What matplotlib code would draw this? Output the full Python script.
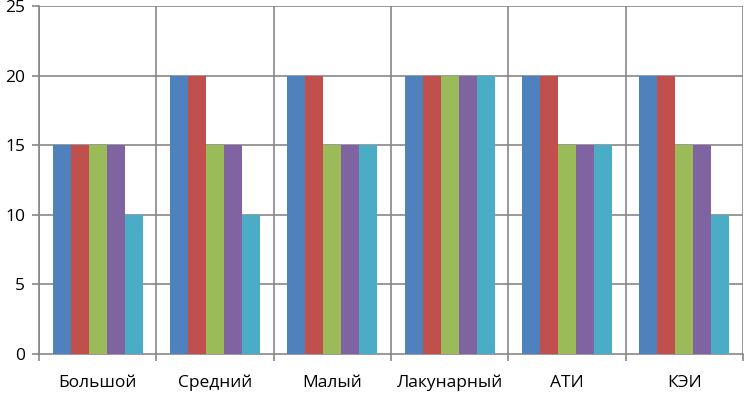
import matplotlib
matplotlib.use("Agg")
import matplotlib.pyplot as plt
import numpy as np

categories = ["Большой", "Средний", "Малый", "Лакунарный", "АТИ", "КЭИ"]
series1 = [15, 20, 20, 20, 20, 20]
series2 = [15, 20, 20, 20, 20, 20]
series3 = [15, 15, 15, 20, 15, 15]
series4 = [15, 15, 15, 20, 15, 15]
series5 = [10, 10, 15, 20, 15, 10]
series = [series1, series2, series3, series4, series5]
colors = ["#4F81BD", "#C0504D", "#9BBB59", "#8064A2", "#4BACC6"]
yticks = [0, 5, 10, 15, 20, 25]

plt.rcParams['font.family'] = ['Open Sans', 'DejaVu Sans']
fig = plt.figure(figsize=(7.44, 3.93), dpi=100)
ax = fig.add_axes([39/744, 1 - 354/393, (743-39)/744, (354-6)/393])

n = len(series)
gap = 1.5
w = 1.0 / (n + gap)
x = np.arange(len(categories))
for i, (vals, c) in enumerate(zip(series, colors)):
    offs = (i - (n - 1) / 2) * w
    ax.bar(x + offs, vals, width=w, color=c, zorder=3, linewidth=0)

grid_c = "#878787"
ax.set_xlim(-0.5, len(categories) - 0.5)
ax.set_ylim(0, 25)
ax.set_yticks(yticks)
ax.set_xticks(x)
ax.set_xticklabels(categories, fontsize=12.5)
ax.tick_params(axis='x', length=0, pad=15)
ax.set_xticks(np.arange(len(categories) + 1) - 0.5, minor=True)
ax.tick_params(axis='x', which='minor', length=5, color=grid_c, width=1.2)
ax.tick_params(axis='y', length=5, color=grid_c, width=1.2, labelsize=12.5, pad=5)
for y in yticks[1:]:
    ax.axhline(y, color=grid_c, lw=1.2, zorder=1)
for xv in np.arange(len(categories) + 1) - 0.5:
    ax.axvline(xv, color=grid_c, lw=1.2, zorder=1)
for s in ['top', 'right']:
    ax.spines[s].set_visible(False)
ax.spines['left'].set_color(grid_c)
ax.spines['left'].set_linewidth(1.2)
ax.spines['bottom'].set_color(grid_c)
ax.spines['bottom'].set_linewidth(1.2)

fig.savefig("out.png", dpi=100)
